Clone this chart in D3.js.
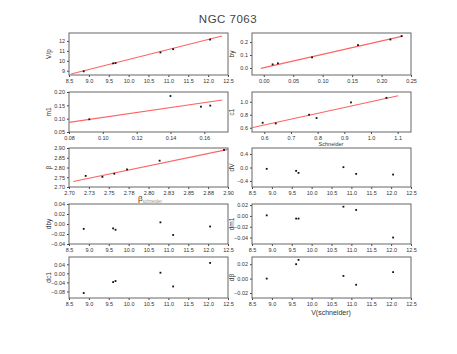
<!DOCTYPE html>
<html>
<head>
<meta charset="utf-8">
<script src="https://cdn.jsdelivr.net/npm/d3@7"></script>
<style>
  body { margin: 0; background: #fff; }
  text { font-family: "Liberation Sans", Arial, sans-serif; }
</style>
</head>
<body>
<div id="chart"></div>
<script>
// V from Schneider, shared x of the residual panels
const vSchneider = [8.87, 9.61, 9.67, 10.80, 11.12, 12.05];

// top panels: our value vs Schneider value
const vOurs   = [8.94, 9.74, 9.77, 10.84, 11.17, 12.14];
const byS     = [0.015, 0.024, 0.082, 0.160, 0.215, 0.234];
const byOurs  = [0.028, 0.036, 0.082, 0.177, 0.220, 0.246];
const m1S     = [0.092, 0.140, 0.158, 0.1635];
const m1Ours  = [0.0976, 0.185, 0.145, 0.149];
const c1S     = [0.594, 0.643, 0.768, 0.796, 0.925, 1.058];
const c1Ours  = [0.677, 0.667, 0.800, 0.750, 0.990, 1.060];
const betaS   = [2.721, 2.742, 2.757, 2.773, 2.814, 2.895];
const betaOurs= [2.757, 2.752, 2.768, 2.790, 2.835, 2.890];

// fitted lines (two end points each, in data units)
const fitV    = [[8.55, 8.67], [12.35, 12.50]];
const fitBy   = [[-0.005, -0.003], [0.236, 0.246]];
const fitM1   = [[0.080, 0.086], [0.1706, 0.170]];
const fitC1   = [[0.553, 0.600], [1.102, 1.092]];
const fitBeta = [[2.7054, 2.7285], [2.900, 2.893]];

// residuals vs V(Schneider)
const dV    = [-0.04, -0.10, -0.16, 0.01, -0.19, -0.21];
const dBy   = [-0.0097, -0.0088, -0.0115, 0.0033, -0.022, -0.005];
const dM1   = [0.001, -0.005, -0.005, 0.017, 0.011, -0.040];
const dC1   = [-0.087, -0.0387, -0.034, 0.0026, -0.058, 0.046];
const dBeta = [0.000, 0.020, 0.026, 0.0037, -0.0086, 0.009];

const vTicks = d3.range(8.5, 12.51, 0.5);

const W = 457, H = 354;
const svg = d3.select("#chart").append("svg")
  .attr("width", W).attr("height", H);

svg.append("text")
  .attr("x", 228).attr("y", 23)
  .attr("text-anchor", "middle")
  .attr("font-size", 11.5)
  .attr("letter-spacing", 0.5)
  .attr("fill", "#444")
  .text("NGC 7063");

const cols = [69, 252], pw = 159;
const rows = [[33, 75], [92, 132], [148, 187], [204, 244], [257, 298]];

const panels = [
  {r: 0, c: 0, xs: vSchneider, ys: vOurs, fit: fitV, xd: [8.5, 12.5], yd: [8.57, 12.8],
   xt: vTicks, xf: ".1f", yt: [9, 10, 11, 12], yf: "d", label: "V/p"},
  {r: 0, c: 1, xs: byS, ys: byOurs, fit: fitBy, xd: [-0.02, 0.25], yd: [-0.054, 0.27],
   xt: d3.range(0, 0.251, 0.05), xf: ".2f", yt: [0, 0.1, 0.2], yf: ".1f", label: "by"},
  {r: 1, c: 0, xs: m1S, ys: m1Ours, fit: fitM1, xd: [0.08, 0.174], yd: [0.05, 0.20],
   xt: [0.08, 0.10, 0.12, 0.14, 0.16], xf: ".2f", yt: [0.05, 0.10, 0.15, 0.20], yf: ".2f", label: "m1"},
  {r: 1, c: 1, xs: c1S, ys: c1Ours, fit: fitC1, xd: [0.554, 1.15], yd: [0.535, 1.15],
   xt: [0.6, 0.7, 0.8, 0.9, 1.0, 1.1], xf: ".1f", yt: [0.6, 0.8, 1.0], yf: ".1f", label: "c1"},
  {r: 2, c: 0, xs: betaS, ys: betaOurs, fit: fitBeta, xd: [2.70, 2.90], yd: [2.70, 2.90],
   xt: d3.range(2.70, 2.901, 0.025), xf: ".2f", yt: [2.70, 2.75, 2.80, 2.85, 2.90], yf: ".2f", label: "β"},
  {r: 2, c: 1, xs: vSchneider, ys: dV, xd: [8.5, 12.5], yd: [-0.58, 0.58],
   xt: vTicks, xf: ".1f", yt: [-0.4, 0, 0.4], yf: ".1f", label: "dV"},
  {r: 3, c: 0, xs: vSchneider, ys: dBy, xd: [8.5, 12.5], yd: [-0.04, 0.04],
   xt: vTicks, xf: ".1f", yt: [-0.04, -0.02, 0, 0.02, 0.04], yf: ".2f", label: "dby"},
  {r: 3, c: 1, xs: vSchneider, ys: dM1, xd: [8.5, 12.5], yd: [-0.052, 0.022],
   xt: vTicks, xf: ".1f", yt: [-0.04, -0.02, 0, 0.02], yf: ".2f", label: "dm1"},
  {r: 4, c: 0, xs: vSchneider, ys: dC1, xd: [8.5, 12.5], yd: [-0.109, 0.072],
   xt: vTicks, xf: ".1f", yt: [-0.08, -0.04, 0, 0.04], yf: ".2f", label: "dc1"},
  {r: 4, c: 1, xs: vSchneider, ys: dBeta, xd: [8.5, 12.5], yd: [-0.027, 0.03],
   xt: vTicks, xf: ".1f", yt: [-0.02, 0, 0.02], yf: ".2f", label: "dβ"}
];

panels.forEach(p => {
  const x0 = cols[p.c], y0 = rows[p.r][0], y1 = rows[p.r][1];
  const x = d3.scaleLinear().domain(p.xd).range([x0, x0 + pw]);
  const y = d3.scaleLinear().domain(p.yd).range([y1, y0]);
  const g = svg.append("g");

  const xa = g.append("g").attr("transform", `translate(0,${y1})`)
    .call(d3.axisBottom(x).tickValues(p.xt).tickFormat(d3.format(p.xf)).tickSize(2).tickPadding(2));
  const ya = g.append("g").attr("transform", `translate(${x0},0)`)
    .call(d3.axisLeft(y).tickValues(p.yt).tickFormat(d3.format(p.yf)).tickSize(2).tickPadding(2));
  [xa, ya].forEach(a => {
    a.select(".domain").remove();
    a.selectAll("line").attr("stroke", "#444");
    a.selectAll("text").attr("font-size", 5.5).attr("fill", "#333");
  });

  g.append("rect")
    .attr("x", x0).attr("y", y0)
    .attr("width", pw).attr("height", y1 - y0)
    .attr("fill", "none").attr("stroke", "#666").attr("stroke-width", 1);

  if (p.fit) {
    g.append("line")
      .attr("x1", x(p.fit[0][0])).attr("y1", y(p.fit[0][1]))
      .attr("x2", x(p.fit[1][0])).attr("y2", y(p.fit[1][1]))
      .attr("stroke", "#ff6464").attr("stroke-width", 1.1);
  }

  g.selectAll("rect.pt")
    .data(p.xs.map((v, i) => [v, p.ys[i]]))
    .join("rect").attr("class", "pt")
    .attr("x", d => x(d[0]) - 0.9).attr("y", d => y(d[1]) - 0.9)
    .attr("width", 1.8).attr("height", 1.8)
    .attr("fill", "#111");

  g.append("text")
    .attr("transform", `translate(${x0 - 18},${(y0 + y1) / 2}) rotate(-90)`)
    .attr("text-anchor", "middle")
    .attr("font-size", 6.5)
    .attr("fill", "#333")
    .text(p.label);
});

// x labels that are visible in the reference
svg.append("text")
  .attr("x", 331).attr("y", 146)
  .attr("text-anchor", "middle").attr("font-size", 5.5).attr("fill", "#333")
  .text("Schneider");

const bl = svg.append("text")
  .attr("x", 150).attr("y", 201)
  .attr("text-anchor", "middle").attr("fill", "#333");
bl.append("tspan").attr("font-size", 8).text("β");
bl.append("tspan").attr("font-size", 4.5).attr("dy", 2).attr("fill", "#999").text("schneider");

svg.append("text")
  .attr("x", 331).attr("y", 315)
  .attr("text-anchor", "middle").attr("font-size", 7).attr("fill", "#333")
  .text("V(schneider)");
</script>
</body>
</html>
